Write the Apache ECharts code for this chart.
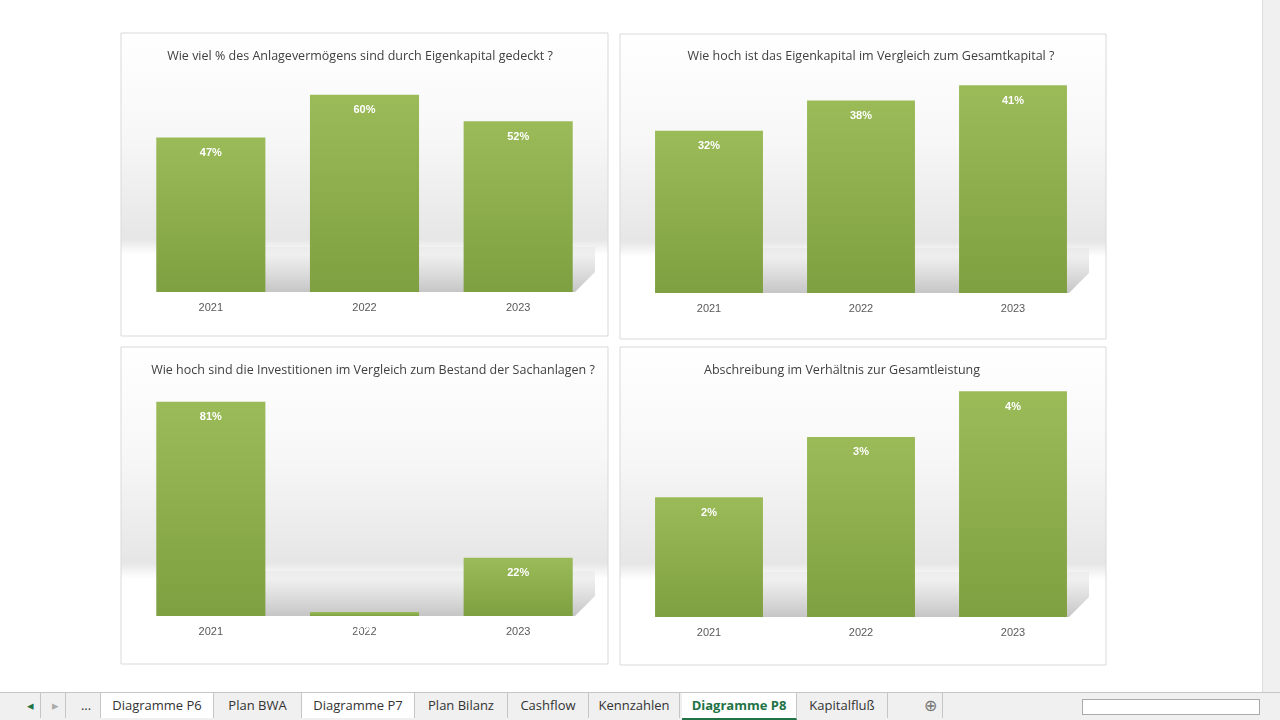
<!DOCTYPE html>
<html><head><meta charset="utf-8">
<script src="https://cdn.jsdelivr.net/npm/echarts@6/dist/echarts.min.js"></script>
<style>
body{margin:0;width:1280px;height:720px;overflow:hidden;background:#fff;font-family:"Segoe UI","Open Sans",Arial,sans-serif;}
#c{position:absolute;left:0;top:0;width:1260px;height:692px;}
#vs{position:absolute;left:1262px;top:0;width:18px;height:692px;background:#f0f0f0;border-left:1px solid #ddd;}
#tabs{position:absolute;left:0;top:692px;width:1280px;height:28px;background:#f0f0f0;border-top:1px solid #c6c6c6;font-size:13px;color:#333;}
.t{position:absolute;top:0;height:25px;line-height:25px;text-align:center;border-right:1px solid #c6c6c6;}
.w{background:#fff}
.a{background:#fff;color:#217346;font-weight:bold;border-bottom:2px solid #217346}
</style></head><body>
<div id="c"></div><div id="vs"></div>
<div id="tabs">
<div class="t" style="left:20px;width:20px;color:#217346">◂</div>
<div class="t" style="left:45px;width:20px;color:#aaa">▸</div>
<div class="t" style="left:72px;width:28px">...</div>
<div class="t w" style="left:101px;width:112px">Diagramme P6</div>
<div class="t" style="left:214px;width:87px">Plan BWA</div>
<div class="t w" style="left:302px;width:112px">Diagramme P7</div>
<div class="t" style="left:415px;width:92px">Plan Bilanz</div>
<div class="t" style="left:508px;width:80px">Cashflow</div>
<div class="t" style="left:589px;width:90px">Kennzahlen</div>
<div class="t a" style="left:682px;width:114px">Diagramme P8</div>
<div class="t" style="left:797px;width:90px">Kapitalfluß</div>
<div class="t" style="left:918px;width:24px;color:#777;font-size:16px">⊕</div>
<div style="position:absolute;left:1082px;top:6px;width:176px;height:14px;background:#fff;border:1px solid #aaa"></div>
</div>
<script>
const categories = ['2021','2022','2023'];
const titles = [
 'Wie viel % des Anlagevermögens sind durch Eigenkapital gedeckt ?',
 'Wie hoch ist das Eigenkapital im Vergleich zum Gesamtkapital ?',
 'Wie hoch sind die Investitionen im Vergleich zum Bestand der Sachanlagen ?',
 'Abschreibung im Verhältnis zur Gesamtleistung'
];
const deckung = [0.47, 0.60, 0.52];
const ekQuote = [0.32, 0.38, 0.41];
const investition = [0.81, 0.015, 0.22];
const abschreibung = [0.0212, 0.0319, 0.040];
const allData = [deckung, ekQuote, investition, abschreibung];
const yMax = [0.70, 0.45, 0.90, 0.045];

const panels = [
 {x:121,y:33,w:487,h:303, gl:134,gw:461,gt:62,gb:292, tx:355,ty:45},
 {x:620,y:34,w:486,h:305, gl:633,gw:456,gt:65,gb:293, tx:866,ty:45},
 {x:121,y:347,w:487,h:317, gl:134,gw:461,gt:378,gb:616, tx:368,ty:359},
 {x:620,y:347,w:486,h:318, gl:633,gw:456,gt:363,gb:617, tx:837,ty:359}
];
const graphic=[], grid=[], xAxis=[], yAxis=[], series=[], title=[];
panels.forEach((p,i)=>{
  graphic.push({type:'rect',shape:{x:p.x,y:p.y,width:p.w,height:p.h},z:-10,
    style:{stroke:'#d9d9d9',lineWidth:1,fill:new echarts.graphic.LinearGradient(0,0,0,1,[
      {offset:0,color:'#ffffff'},{offset:0.35,color:'#f7f7f7'},{offset:0.68,color:'#e6e6e6'},
      {offset:0.73,color:'#ffffff'},{offset:1,color:'#ffffff'}])}});
  const sy=p.y+(p.gb-p.y)-45;
  graphic.push({type:'polygon',z:-9,shape:{points:[[p.gl+30,p.gb],[p.gl+60,sy],[p.gl+p.gw,sy],[p.gl+p.gw,p.gb-20],[p.gl+p.gw-20,p.gb]]},
    style:{fill:new echarts.graphic.LinearGradient(0,0,0,1,[{offset:0,color:'rgba(170,170,170,0.1)'},{offset:1,color:'rgba(150,150,150,0.55)'}])}});
  title.push({text:titles[i],left:p.tx,top:p.ty,textAlign:'center',textStyle:{fontSize:12.5,fontWeight:'normal',color:'#404040',fontFamily:'Open Sans'}});
  grid.push({left:p.gl,width:p.gw,top:p.gt,height:p.gb-p.gt});
  xAxis.push({type:'category',gridIndex:i,data:categories,axisLine:{show:false},axisTick:{show:false},
    axisLabel:{color:'#595959',fontSize:11,margin:10}});
  yAxis.push({type:'value',gridIndex:i,min:0,max:yMax[i],show:false,splitLine:{show:false}});
  series.push({type:'bar',xAxisIndex:i,yAxisIndex:i,data:allData[i],barCategoryGap:'29%',
    itemStyle:{color:new echarts.graphic.LinearGradient(0,0,0,1,[{offset:0,color:'#9bbb59'},{offset:1,color:'#7fa040'}])},
    label:{show:true,position:'insideTop',distance:10,color:'#fff',fontWeight:'bold',fontSize:11,
      formatter:v=>Math.round(v.value*100)+'%'}});
});
const ch=echarts.init(document.getElementById('c'));
ch.setOption({animation:false,title,grid,xAxis,yAxis,series,graphic});
</script></body></html>
